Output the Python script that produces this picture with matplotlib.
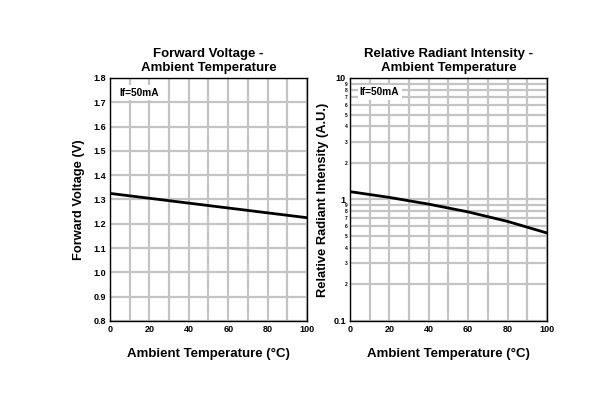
import numpy as np
import matplotlib.pyplot as plt
from matplotlib.ticker import FixedLocator, FixedFormatter

plt.rcParams['font.family'] = ['Liberation Sans', 'DejaVu Sans']
plt.rcParams['font.weight'] = 'bold'

# data
temp = [0, 20, 40, 60, 80, 100]
vf = [1.325, 1.305, 1.285, 1.265, 1.245, 1.225]
rel_int = [1.16, 1.04, 0.915, 0.79, 0.66, 0.53]

x_ticks = [0, 20, 40, 60, 80, 100]
vf_ticks = [0.8, 0.9, 1.0, 1.1, 1.2, 1.3, 1.4, 1.5, 1.6, 1.7, 1.8]

grid_col = '#c4c4c4'

fig = plt.figure(figsize=(5.93, 3.94), dpi=100)
ax1 = fig.add_axes([0.1855, 0.1853, 0.3322, 0.6168])
ax2 = fig.add_axes([0.5902, 0.1853, 0.3322, 0.6168])

# --- left: forward voltage
ax1.plot(temp, vf, color='black', lw=2, zorder=3)
ax1.set_xlim(0, 100)
ax1.set_ylim(0.8, 1.8)
ax1.set_xticks(x_ticks)
ax1.xaxis.set_minor_locator(FixedLocator(np.arange(10, 100, 20)))
ax1.set_yticks(vf_ticks)
ax1.set_yticklabels(['%.1f' % v for v in vf_ticks])
ax1.grid(True, which='both', color=grid_col, lw=1.6, zorder=0)
ax1.set_title('Forward Voltage -\nAmbient Temperature', fontsize=9.5, fontweight='bold', pad=5, linespacing=1.25)
ax1.set_ylabel('Forward Voltage (V)', fontsize=9.3, fontweight='bold', labelpad=6)
ax1.set_xlabel('Ambient Temperature (°C)', fontsize=9.5, fontweight='bold', labelpad=10)
ax1.text(5, 1.74, 'If=50mA', fontsize=7.3, fontweight='bold', va='center',
         bbox=dict(facecolor='white', edgecolor='none', pad=1.5), zorder=4)

# --- right: relative radiant intensity (log)
ax2.plot(temp, rel_int, color='black', lw=2, zorder=3)
ax2.set_xlim(0, 100)
ax2.set_yscale('log')
ax2.set_ylim(0.1, 10)
ax2.set_xticks(x_ticks)
ax2.xaxis.set_minor_locator(FixedLocator(np.arange(10, 100, 20)))
ax2.yaxis.set_major_locator(FixedLocator([0.1, 1, 10]))
ax2.yaxis.set_major_formatter(FixedFormatter(['0.1', '1', '10']))
minor_vals = [m * d for d in (0.1, 1) for m in range(2, 10)]
minor_labs = [str(m) for d in (0.1, 1) for m in range(2, 10)]
ax2.yaxis.set_minor_locator(FixedLocator(minor_vals))
ax2.yaxis.set_minor_formatter(FixedFormatter(minor_labs))
ax2.tick_params(axis='y', which='minor', labelsize=3.5, pad=2)
ax2.grid(True, which='both', color=grid_col, lw=1.6, zorder=0)
ax2.set_title('Relative Radiant Intensity -\nAmbient Temperature', fontsize=9.5, fontweight='bold', pad=5, linespacing=1.25)
ax2.set_ylabel('Relative Radiant Intensity (A.U.)', fontsize=9.3, fontweight='bold', labelpad=3)
ax2.set_xlabel('Ambient Temperature (°C)', fontsize=9.5, fontweight='bold', labelpad=10)
ax2.text(5, 7.6, 'If=50mA', fontsize=7.3, fontweight='bold', va='center',
         bbox=dict(facecolor='white', edgecolor='none', pad=1.5), zorder=4)

for ax in (ax1, ax2):
    ax.tick_params(which='both', length=0)
    ax.tick_params(axis='both', which='major', labelsize=6.5, pad=3)
    for lbl in ax.get_xticklabels() + ax.get_yticklabels(which='both'):
        lbl.set_fontweight('bold')
    for sp in ax.spines.values():
        sp.set_linewidth(1.0)
        sp.set_zorder(5)

fig.savefig('out.png', dpi=100)
